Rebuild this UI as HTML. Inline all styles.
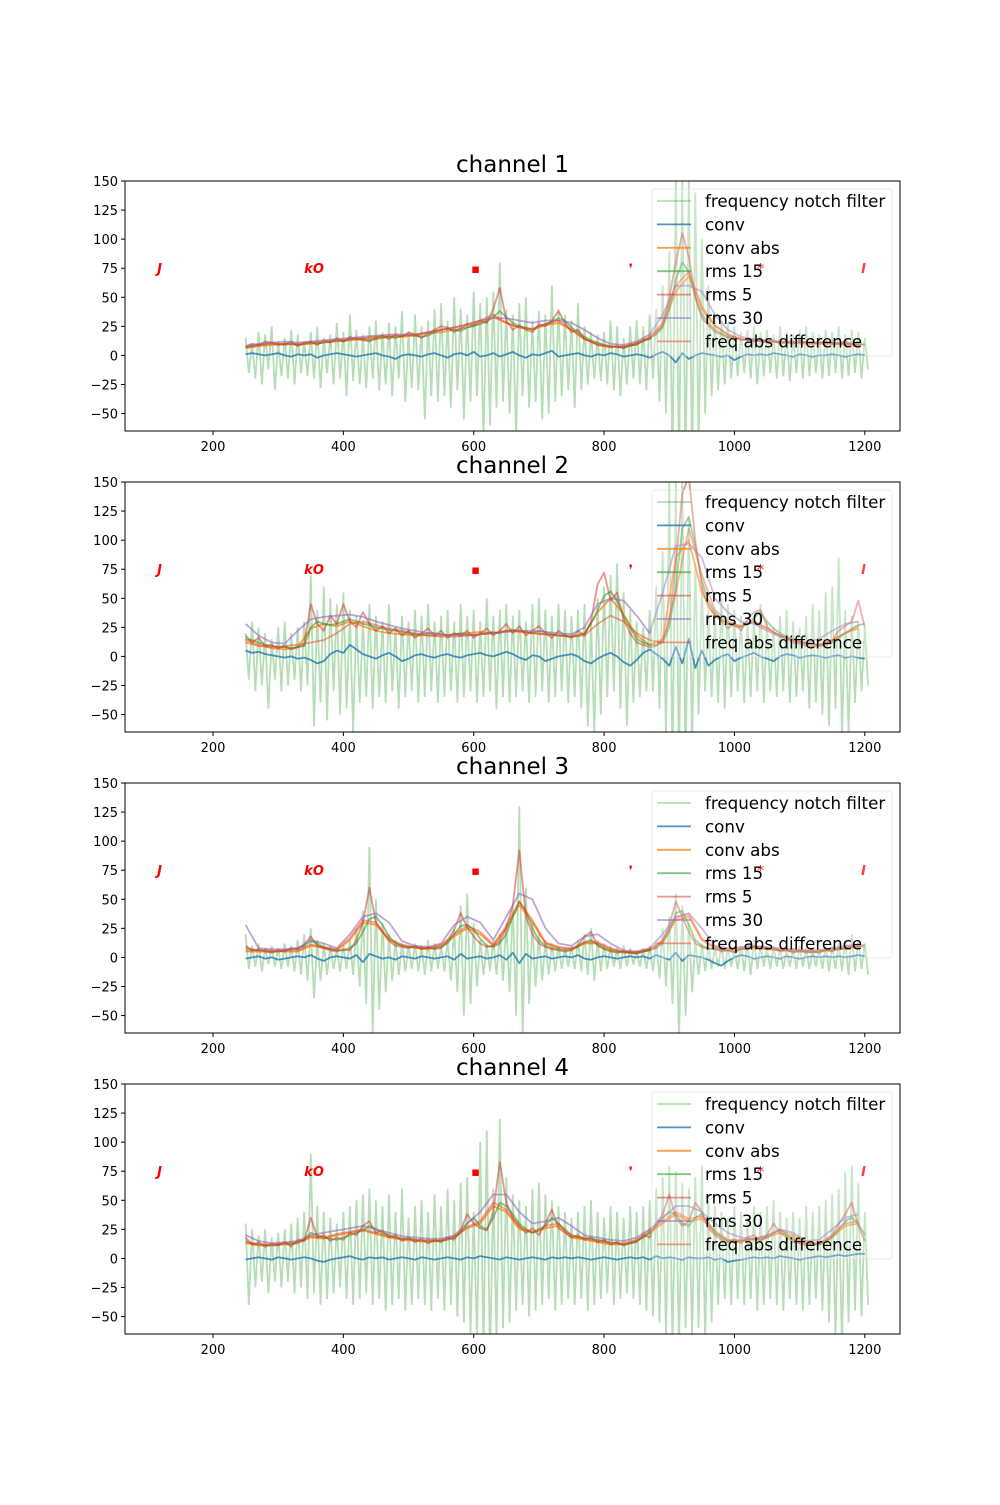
<!DOCTYPE html>
<html><head><meta charset="utf-8"><style>
body{margin:0;background:#fff}
svg text{font-family:"DejaVu Sans","Liberation Sans",sans-serif}
</style></head><body>
<svg id="fig" xmlns="http://www.w3.org/2000/svg" width="1000" height="1500" viewBox="0 0 1000 1500"></svg>
<script>
// x categories
const xStart = 250, step10 = 10, step20 = 20;
const xTicks = [200,400,600,800,1000,1200];
const yTicks = [-50,-25,0,25,50,75,100,125,150];
const seriesNames = ["frequency notch filter","conv","conv abs","rms 15","rms 5","rms 30","freq abs difference"];
const markerLabels = ["J","kO","▪","❜","*","I"];
const markerX = [118,355,603,841,1040,1198];
const markerY = [75,75,75,75,75,75];

// ---- channel 1 ----
const c1Rms15 = [7,8,9,10,11,10,9,10,9,10, 11,10,11,12,13,12,14,15,14,13, 14,15,16,15,17,18,17,16,17,20, 22,23,22,21,24,25,27,29,33,38, 33,28,25,24,22,25,27,29,32,30, 24,20,16,13,11,9,8,7,7,8, 10,12,15,18,24,40,65,80,72,50, 35,28,22,19,16,15,14,13,13,12, 12,12,11,11,11,12,11,11,10,11, 11,10,11,10,10,9];
const c1Rms5 = [8,10,9,12,11,9,10,12,8,11, 12,9,13,11,15,12,16,14,13,12, 15,17,14,18,16,20,18,15,19,22, 25,24,20,23,27,26,30,28,40,58, 30,22,26,22,20,27,25,30,38,28, 20,22,14,12,9,8,7,8,6,9, 9,13,14,20,26,50,80,105,85,50, 32,26,20,18,15,16,13,14,12,13, 11,13,10,12,10,13,11,10,11,12, 10,11,12,10,9,10];
const c1Rms30 = [8,10,11,12,11,12,13,14,15,16,17,18,18,18,20,22,24,26,30,32,32,30,28,30,30,28,22,15,10,9,12,18,35,60,60,55,35,22,16,14,13,12,12,11,11,11,10,10];
const c1ConvAbs = [6,8,9,10,9,10,11,12,13,14,15,16,16,17,19,20,22,24,28,33,28,24,22,26,28,22,14,10,8,7,10,15,25,55,68,40,25,18,14,13,12,11,11,10,10,10,9,8];
const c1FreqDiff = [7,9,10,10,10,11,12,13,14,15,16,17,17,18,20,22,24,27,30,35,28,24,23,27,30,22,14,9,7,8,11,16,28,60,72,42,26,18,14,13,12,12,11,11,11,10,10,9];
const c1Conv = [1,2,1,0,1,2,0,-1,1,0, 1,-2,0,1,2,1,0,-1,0,1, 2,0,-1,-3,0,1,0,-1,1,2, 0,-2,1,2,0,3,-1,0,2,-1, 1,3,0,-2,1,0,2,4,-1,0, 1,2,0,-1,1,0,2,1,-1,0, 1,0,-2,1,3,0,-6,2,-3,0, 2,1,0,-1,0,-4,-1,1,0,1, 0,2,1,0,-1,1,0,-1,0,0, 1,0,-1,0,1,0];
const c1NotchHi = [15,10,20,18,25,12,15,22,18,12, 20,25,15,18,28,20,35,22,18,25, 30,20,28,25,38,20,35,25,30,40, 45,30,50,40,35,55,45,50,55,80, 40,35,45,50,30,38,35,60,40,35, 30,45,25,20,18,20,30,25,15,25, 30,25,35,40,60,90,150,150,150,140, 100,60,35,30,28,25,20,22,25,20, 22,18,25,20,18,22,25,20,18,22, 20,25,18,22,20,15];
const c1NotchLo = [-15,-20,-25,-12,-30,-18,-20,-25,-15,-18, -20,-28,-15,-25,-20,-35,-22,-25,-28,-20, -30,-25,-35,-20,-40,-28,-30,-55,-35,-40, -35,-45,-30,-55,-40,-35,-70,-60,-45,-40, -50,-70,-35,-45,-40,-55,-50,-40,-35,-30, -45,-30,-25,-20,-22,-25,-30,-35,-25,-20, -25,-30,-20,-40,-50,-90,-100,-100,-100,-80, -50,-35,-30,-25,-20,-18,-15,-20,-25,-18, -15,-20,-18,-22,-15,-20,-18,-15,-20,-18, -15,-20,-18,-15,-20,-12];

// ---- channel 2 ----
const c2Rms15 = [15,14,12,10,9,8,8,7,8,9, 25,30,28,27,28,30,32,30,28,27, 25,24,23,22,21,20,19,19,20,20, 19,18,19,20,19,18,19,20,21,20, 22,23,22,21,20,22,21,19,18,18, 17,18,20,28,40,52,56,48,35,25, 15,12,10,10,12,25,60,110,120,95, 65,48,38,32,28,26,25,28,33,38, 30,24,20,17,15,13,11,10,10,10, 12,16,20,24,27,28];
const c2Rms5 = [18,12,16,9,10,7,9,6,8,10, 45,28,22,35,28,45,30,25,38,28, 22,26,20,24,18,22,16,20,24,18, 22,16,20,18,22,16,20,24,18,22, 28,20,26,18,22,26,20,16,22,18, 16,22,18,30,62,72,48,55,32,20, 12,10,8,9,14,30,80,140,155,100, 60,42,36,30,24,28,22,32,38,40, 26,20,18,15,12,11,9,8,9,10, 14,22,26,30,48,25];
const c2Rms30 = [28,18,12,11,22,32,34,35,36,34,30,27,24,22,20,19,18,18,19,20,21,22,22,21,20,19,25,45,50,48,35,20,55,95,97,85,50,38,30,28,22,17,14,12,15,22,28,30];
const c2ConvAbs = [14,10,7,6,8,24,28,26,30,26,22,20,19,18,18,18,19,20,21,20,22,21,20,19,18,17,20,38,50,36,18,10,15,85,100,55,35,28,26,30,24,18,14,11,10,14,20,24];
const c2FreqDiff = [12,9,8,9,10,12,14,20,28,30,27,24,22,20,18,17,17,18,19,20,22,22,20,19,18,17,18,28,35,30,20,14,12,55,110,70,40,30,26,30,24,18,14,11,10,14,20,26];
const c2Conv = [5,3,4,2,1,0,-1,0,-2,-1, -3,-6,-4,2,5,3,10,6,2,0, -2,1,3,0,-4,-2,1,2,0,-1, 1,2,0,-1,1,2,3,1,0,2, 4,2,-1,-3,1,0,-4,-2,0,1, 2,0,-4,-6,-2,1,3,0,-5,-8, -3,3,6,2,-2,-8,8,-6,15,-10, 5,-8,-3,0,2,-4,-1,1,3,0, -2,-4,0,2,1,-1,0,1,0,-1, 0,1,-1,0,-1,-2];
const c2NotchHi = [20,30,25,20,15,25,30,20,25,30, 70,40,60,50,45,55,40,35,30,45, 35,30,45,25,35,30,40,35,45,30, 35,40,30,45,35,40,30,50,35,40, 45,35,40,30,45,50,40,35,45,40, 35,40,45,30,50,60,70,80,55,40, 30,25,40,60,90,150,150,150,120,80, 60,40,35,50,45,40,35,30,35,45, 30,25,35,40,30,25,35,45,40,55, 60,85,40,35,30,25];
const c2NotchLo = [-20,-30,-25,-45,-20,-30,-25,-20,-30,-25, -60,-40,-55,-30,-50,-45,-65,-40,-35,-45, -35,-40,-30,-45,-35,-30,-40,-35,-30,-40, -35,-30,-40,-35,-30,-40,-35,-30,-45,-35, -40,-35,-30,-40,-35,-30,-40,-35,-30,-40, -35,-45,-60,-65,-50,-35,-30,-45,-60,-40, -35,-30,-30,-45,-70,-100,-100,-100,-80,-50, -30,-35,-40,-45,-35,-30,-40,-35,-30,-40, -30,-35,-30,-40,-35,-30,-45,-40,-50,-60, -45,-70,-65,-40,-30,-25];

// ---- channel 3 ----
const c3Rms15 = [8,7,6,6,5,5,6,7,8,10, 14,12,9,7,6,6,8,12,22,33, 35,28,18,12,10,9,9,8,8,8, 9,12,20,27,28,24,16,10,9,12, 20,35,48,40,25,15,10,8,7,6, 7,9,13,15,11,8,6,5,5,4, 4,5,6,8,12,22,38,40,28,15, 10,8,7,6,6,5,7,8,9,9, 8,7,6,6,5,5,5,4,5,6, 6,7,8,9,10,9];
const c3Rms5 = [10,6,7,5,4,6,5,8,7,11, 18,10,8,6,5,7,6,15,30,60, 30,22,14,10,9,8,10,7,9,7, 8,14,24,38,26,18,12,9,10,14, 25,45,92,35,20,12,9,7,6,5, 6,10,18,22,10,7,5,4,5,4, 3,5,7,9,14,28,48,35,22,12, 9,7,8,5,6,4,8,7,10,8, 7,8,5,7,4,6,4,5,4,7, 5,8,7,10,9,11];
const c3Rms30 = [28,8,7,7,8,15,12,8,20,35,38,30,14,10,9,12,28,35,30,15,35,55,50,25,12,10,18,20,12,6,5,8,20,35,38,25,10,8,9,10,9,8,7,6,6,8,10,11];
const c3ConvAbs = [5,5,5,5,5,10,8,6,15,30,28,15,10,8,7,10,18,25,20,10,25,45,30,12,8,7,12,12,7,4,4,6,14,32,35,15,8,6,7,8,7,6,5,5,5,6,8,9];
const c3FreqDiff = [6,6,6,6,6,11,9,7,17,32,30,16,11,9,8,11,20,27,22,11,27,48,32,13,9,8,13,13,8,5,5,7,15,34,37,16,9,7,8,9,8,7,6,6,6,7,9,10];
const c3Conv = [-1,0,1,-1,0,-2,-1,0,1,0, 2,-1,-3,0,1,0,-1,2,-4,3, 1,-1,0,-2,1,0,-1,1,0,-1, 0,1,-2,3,-1,0,1,-1,0,2, -2,4,-5,3,-1,0,1,-1,0,1, 0,2,-1,-2,0,1,0,-1,0,1, 0,1,-1,2,0,-2,4,-3,2,1, 0,-2,-5,-7,-3,0,2,1,-1,0, 1,0,-1,1,0,-1,0,1,0,1, 0,1,0,1,2,1];
const c3NotchHi = [20,10,12,8,10,8,12,10,15,20, 25,15,12,10,8,10,15,25,40,95, 50,30,20,15,12,10,12,10,15,12, 10,15,25,45,55,30,15,12,15,20, 30,45,130,60,30,20,15,12,10,8, 10,15,20,25,15,12,10,8,10,8, 6,8,10,15,25,35,55,45,30,15, 12,10,8,10,8,6,10,12,15,10, 8,10,8,6,8,10,8,6,8,10, 10,12,15,20,15,12];
const c3NotchLo = [-10,-8,-12,-6,-8,-10,-8,-12,-15,-20, -35,-20,-15,-10,-12,-10,-15,-25,-40,-65, -45,-30,-20,-15,-12,-10,-12,-15,-12,-10, -12,-20,-30,-50,-40,-25,-15,-12,-15,-20, -30,-50,-70,-40,-25,-20,-15,-12,-10,-8, -10,-12,-15,-20,-12,-10,-8,-10,-8,-6, -8,-10,-12,-18,-25,-40,-70,-50,-30,-15, -12,-10,-8,-10,-8,-10,-12,-15,-10,-8, -10,-8,-10,-8,-10,-8,-10,-8,-10,-12, -10,-12,-15,-12,-10,-15];

// ---- channel 4 ----
const c4Rms15 = [15,13,12,12,11,12,13,12,14,16, 22,20,18,17,16,18,20,22,24,28, 25,22,20,18,17,17,16,15,16,15, 15,16,18,22,30,35,28,25,35,48, 45,38,30,25,22,24,28,35,30,24, 20,18,18,17,16,15,14,13,12,13, 15,18,22,28,35,40,38,30,28,35, 38,30,22,18,15,14,15,16,17,16, 18,22,25,20,16,14,13,12,12,14, 18,25,32,35,30,20];
const c4Rms5 = [18,12,14,10,13,11,14,10,16,15, 35,18,20,15,18,16,22,20,28,32, 22,24,18,20,15,18,14,17,13,16, 14,18,16,24,38,30,26,24,40,83, 48,35,28,22,26,20,30,42,26,22, 18,20,16,18,14,16,12,14,11,13, 14,20,18,30,38,55,35,28,32,48, 40,26,20,16,14,16,13,18,20,14, 20,30,22,18,14,13,11,12,13,15, 20,30,38,48,28,15];
const c4Rms30 = [20,15,13,14,15,20,22,24,26,28,25,22,19,18,17,17,20,30,40,55,55,40,30,32,35,28,20,18,16,15,18,25,35,45,45,40,30,22,18,17,20,25,22,15,16,25,35,38];
const c4ConvAbs = [13,11,11,12,13,18,17,20,22,24,21,18,16,15,14,15,18,26,30,45,40,25,22,26,28,18,16,14,12,12,15,22,30,38,32,34,22,15,15,16,18,22,18,13,12,18,28,30];
const c4FreqDiff = [14,12,12,13,14,19,18,21,23,25,22,19,17,16,15,16,19,27,32,48,42,27,23,28,30,20,17,15,13,13,16,24,32,40,34,36,24,16,16,17,19,24,20,14,13,20,30,32];
const c4Conv = [-1,0,1,0,-1,1,0,-1,0,1, 0,-2,-3,-1,0,1,2,0,-1,1, 0,1,-1,0,1,0,-1,1,0,-1, 0,1,0,-1,1,0,2,1,0,-1, 1,0,-1,0,1,0,-1,1,0,1, 0,1,0,-1,0,1,0,-1,0,1, 0,1,-1,2,0,1,0,-1,1,0, 0,1,-1,0,-3,-2,-1,0,1,0, 1,0,2,1,0,-1,0,1,2,1, 2,3,2,3,4,4];
const c4NotchHi = [30,25,20,25,18,22,25,30,35,40, 90,45,40,35,30,40,45,50,55,60, 50,45,55,40,60,35,45,50,40,55, 45,60,50,65,70,40,100,110,60,120, 70,55,50,45,60,65,55,50,45,40, 35,40,45,50,40,35,45,40,35,45, 40,45,50,60,70,80,75,65,60,70, 80,55,45,40,35,45,40,35,45,40, 45,50,40,35,40,35,45,40,45,50, 55,60,75,80,65,40];
const c4NotchLo = [-40,-25,-20,-30,-20,-25,-20,-30,-25,-35, -30,-40,-35,-30,-25,-35,-40,-35,-30,-40, -35,-45,-40,-35,-45,-40,-35,-40,-45,-35, -45,-40,-50,-55,-65,-70,-80,-90,-70,-60, -55,-45,-40,-50,-45,-40,-35,-45,-40,-35, -40,-35,-45,-40,-35,-30,-40,-35,-30,-35, -40,-45,-50,-55,-65,-70,-75,-60,-65,-60, -70,-55,-40,-35,-40,-35,-40,-35,-45,-40, -35,-40,-45,-35,-40,-45,-40,-35,-45,-55, -70,-80,-55,-45,-50,-40];

const channels = [
 {hi:c1NotchHi,lo:c1NotchLo,conv:c1Conv,convAbs:c1ConvAbs,rms15:c1Rms15,rms5:c1Rms5,rms30:c1Rms30,fd:c1FreqDiff},
 {hi:c2NotchHi,lo:c2NotchLo,conv:c2Conv,convAbs:c2ConvAbs,rms15:c2Rms15,rms5:c2Rms5,rms30:c2Rms30,fd:c2FreqDiff},
 {hi:c3NotchHi,lo:c3NotchLo,conv:c3Conv,convAbs:c3ConvAbs,rms15:c3Rms15,rms5:c3Rms5,rms30:c3Rms30,fd:c3FreqDiff},
 {hi:c4NotchHi,lo:c4NotchLo,conv:c4Conv,convAbs:c4ConvAbs,rms15:c4Rms15,rms5:c4Rms5,rms30:c4Rms30,fd:c4FreqDiff}
];

const NS = "http://www.w3.org/2000/svg";
const svg = document.getElementById("fig");
const AX_L = 125, AX_R = 900, AX_H = 250;
const tops = [181,482,783,1084];
const XMIN = 65, XMAX = 1254, YMIN = -65, YMAX = 150;
function mk(tag, attrs, parent){const e=document.createElementNS(NS,tag);for(const k in attrs)e.setAttribute(k,attrs[k]);(parent||svg).appendChild(e);return e;}
const sx = v => AX_L + (v - XMIN) / (XMAX - XMIN) * (AX_R - AX_L);

const colors = ["#2ca02c","#1f77b4","#ff7f0e","#2ca02c","#d62728","#9467bd","#f03c1e"];
const alphas = [0.35,0.8,0.75,0.6,0.5,0.6,0.5];

channels.forEach((ch, c) => {
  const top = tops[c];
  const sy = v => top + (YMAX - v) / (YMAX - YMIN) * AX_H;
  const g = mk("g", {});
  
  
  const clip = mk("clipPath", {id:"clip"+c}, g);
  mk("rect", {x:AX_L, y:top, width:AX_R-AX_L, height:AX_H}, clip);
  const plot = mk("g", {"clip-path":"url(#clip"+c+")"}, g);

  function line(vals, stp, si, name){
    const pts = vals.map((v,i)=> sx(xStart + i*stp).toFixed(1)+","+sy(v).toFixed(1)).join(" ");
    const p = mk("polyline", {points:pts, fill:"none", stroke:colors[si], "stroke-opacity":alphas[si], "stroke-width":1.8, "stroke-linejoin":"round"}, plot);
    
    
  }
  const np = [];
  ch.hi.forEach((v,i)=>{ np.push(sx(xStart+i*step10).toFixed(1)+","+sy(v).toFixed(1)); np.push(sx(xStart+i*step10+5).toFixed(1)+","+sy(ch.lo[i]).toFixed(1)); });
  const notch = mk("polyline", {points:np.join(" "), fill:"none", stroke:colors[0], "stroke-opacity":alphas[0], "stroke-width":1.8}, plot);
  
  
  line(ch.conv, step10, 1, 'conv-line');
  line(ch.convAbs, step20, 2, 'conv-abs-line');
  line(ch.rms15, step10, 3, 'rms15-line');
  line(ch.rms5, step10, 4, 'rms5-line');
  line(ch.rms30, step20, 5, 'rms30-line');
  line(ch.fd, step20, 6, 'freq-abs-difference-line');

  markerLabels.forEach((m,i)=>{
    const t = mk("text", {x:sx(markerX[i]), y:sy(markerY[i])+5, "text-anchor":"middle", "font-size":13, "font-weight":"bold", "font-style":"italic", fill:"#ff0000"}, plot);
    t.textContent = m;
    
    
  });

  const lg = mk("g", {}, g);
  
  
  mk("rect", {x:652, y:top+8, width:240, height:167, rx:3, fill:"#fff", "fill-opacity":0.25, stroke:"#ddd", "stroke-opacity":0.6}, lg);
  seriesNames.forEach((n,i)=>{
    const y = top + 20 + i*23.4;
    mk("line", {x1:657, x2:691, y1:y, y2:y, stroke:colors[i], "stroke-opacity":alphas[i], "stroke-width":1.8}, lg);
    const t = mk("text", {x:705, y:y+6, "font-size":16.7, fill:"#000"}, lg);
    t.textContent = n;
    
    
  });

  const fr = mk("rect", {x:AX_L, y:top, width:AX_R-AX_L, height:AX_H, fill:"none", stroke:"#000", "stroke-width":1}, g);
  
  

  xTicks.forEach(v=>{
    const x = sx(v);
    mk("line", {x1:x, x2:x, y1:top+AX_H, y2:top+AX_H+4, stroke:"#000"}, g);
    const t = mk("text", {x:x, y:top+AX_H+20, "text-anchor":"middle", "font-size":13}, g);
    t.textContent = v;
    
    
  });
  yTicks.forEach(v=>{
    const y = sy(v);
    mk("line", {x1:AX_L-4, x2:AX_L, y1:y, y2:y, stroke:"#000"}, g);
    const t = mk("text", {x:AX_L-7, y:y+5, "text-anchor":"end", "font-size":13}, g);
    t.textContent = v < 0 ? "\u2212" + Math.abs(v) : v;
    
    
  });
  const ti = mk("text", {x:512.5, y:top-9, "text-anchor":"middle", "font-size":23}, g);
  ti.textContent = "channel " + (c+1);
  
  
});
</script>
</body></html>
